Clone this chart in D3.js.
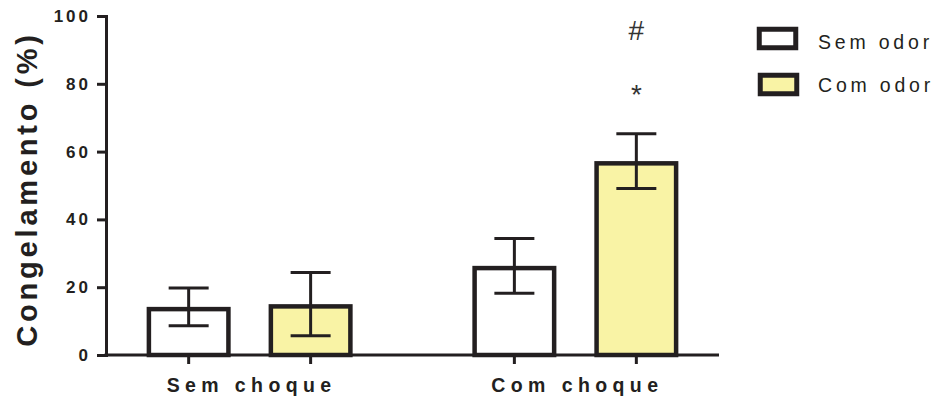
<!DOCTYPE html>
<html>
<head>
<meta charset="utf-8">
<script src="https://cdn.jsdelivr.net/npm/d3@7"></script>
<style>
  body { margin: 0; background: #fff; }
  svg { display: block; font-family: "Liberation Sans", Arial, sans-serif; }
</style>
</head>
<body>
<svg id="chart"></svg>
<script>
var width = 941;
var height = 398;

// data
const groups = ['Sem choque', 'Com choque']
const series = ['Sem odor', 'Com odor']
const means = [[14.2, 15.0], [26.3, 57.2]]
const sems = [[5.6, 9.3], [8.1, 8.1]]
const yTicks = [0, 20, 40, 60, 80, 100]
const marks = [{ group: 'Com choque', serie: 'Com odor', text: '#', y: 92.9 }, { group: 'Com choque', serie: 'Com odor', text: '*', y: 74 }]

const colors = { 'Sem odor': '#ffffff', 'Com odor': '#f9f3a5' }
const ink = '#231f20'

var svg = d3.select('#chart').attr('width', width).attr('height', height)

const plotLeft = 106, plotRight = 719, plotTop = 16, plotBottom = 355

var y = d3.scaleLinear().domain([0, 100]).range([plotBottom, plotTop])
var x0 = d3.scalePoint().domain(groups).range([plotLeft, plotRight]).padding(0.441)
var x1 = d3.scaleBand().domain(series).range([-103, 103]).paddingInner(0.311)

// y axis
var yAxis = svg.append('g')
    .attr('transform', 'translate(' + plotLeft + ',0)')
    .call(d3.axisLeft(y).tickValues(yTicks).tickSize(9).tickPadding(6))
yAxis.select('.domain').attr('stroke', ink).attr('stroke-width', 3)
yAxis.selectAll('.tick line').attr('stroke', ink).attr('stroke-width', 3)
yAxis.selectAll('.tick text')
    .attr('fill', ink)
    .style('font-size', '17px')
    .style('font-weight', 'bold')
    .style('letter-spacing', '3px')

// x axis
var xAxis = svg.append('g')
    .attr('transform', 'translate(0,' + plotBottom + ')')
xAxis.append('line')
    .attr('x1', plotLeft - 1.5).attr('x2', plotRight)
    .attr('stroke', ink).attr('stroke-width', 3)

const barCenters = []
groups.forEach(g => {
    series.forEach(s => {
        barCenters.push(x0(g) + x1(s) + x1.bandwidth() / 2)
    })
})
xAxis.selectAll('.xtick')
    .data(barCenters)
    .enter()
    .append('line')
    .attr('x1', d => d).attr('x2', d => d)
    .attr('y1', 0).attr('y2', 9)
    .attr('stroke', ink).attr('stroke-width', 3)

xAxis.selectAll('.xlabel')
    .data(groups)
    .enter()
    .append('text')
    .attr('x', d => x0(d) + 2)
    .attr('y', 37)
    .attr('text-anchor', 'middle')
    .attr('fill', ink)
    .style('font-size', '19.5px')
    .style('font-weight', 'bold')
    .style('letter-spacing', '5.4px')
    .text(d => d)

// y label
svg.append('text')
    .attr('transform', 'translate(37,' + 189 + ') rotate(-90)')
    .attr('text-anchor', 'middle')
    .attr('fill', ink)
    .style('font-size', '29px')
    .style('font-weight', 'bold')
    .style('letter-spacing', '3.8px')
    .text('Congelamento (%)')

// bars
const sw = 4.5
const barData = []
groups.forEach((g, gi) => {
    series.forEach((s, si) => {
        barData.push({ group: g, serie: s, mean: means[gi][si], sem: sems[gi][si] })
    })
})

var bars = svg.append('g')
bars.selectAll('rect')
    .data(barData)
    .enter()
    .append('rect')
    .attr('x', d => x0(d.group) + x1(d.serie) + sw / 2)
    .attr('width', x1.bandwidth() - sw)
    .attr('y', d => y(d.mean) + sw / 2)
    .attr('height', d => y(0) - y(d.mean) - sw / 2)
    .attr('fill', d => colors[d.serie])
    .attr('stroke', ink)
    .attr('stroke-width', sw)

// error bars
const capHalf = 20
var err = svg.append('g').attr('stroke', ink).attr('stroke-width', 3)
barData.forEach(d => {
    const cx = x0(d.group) + x1(d.serie) + x1.bandwidth() / 2
    err.append('line')
        .attr('x1', cx).attr('x2', cx)
        .attr('y1', y(d.mean + d.sem)).attr('y2', y(d.mean - d.sem))
    err.append('line')
        .attr('x1', cx - capHalf).attr('x2', cx + capHalf)
        .attr('y1', y(d.mean + d.sem)).attr('y2', y(d.mean + d.sem))
    err.append('line')
        .attr('x1', cx - capHalf).attr('x2', cx + capHalf)
        .attr('y1', y(d.mean - d.sem)).attr('y2', y(d.mean - d.sem))
})

// significance marks
svg.selectAll('.mark')
    .data(marks)
    .enter()
    .append('text')
    .attr('x', d => x0(d.group) + x1(d.serie) + x1.bandwidth() / 2)
    .attr('y', d => y(d.y))
    .attr('text-anchor', 'middle')
    .attr('fill', '#333')
    .style('font-size', '28px')
    .text(d => d.text)

// legend
var legend = svg.append('g')
const legendBoxY = [38.5, 84.5]
const legendTextY = [49, 92]
series.forEach((s, i) => {
    legend.append('rect')
        .attr('x', 757 + 2 * i / 2 + sw / 2).attr('y', legendBoxY[i] - 11.5 + sw / 2)
        .attr('width', 41 - sw).attr('height', 23 - sw)
        .attr('fill', colors[s])
        .attr('stroke', ink)
        .attr('stroke-width', 5)
    legend.append('text')
        .attr('x', 818).attr('y', legendTextY[i])
        .attr('fill', ink)
        .style('font-size', '19.5px')
        .style('letter-spacing', '3.8px')
        .text(s)
})
</script>
</body>
</html>
